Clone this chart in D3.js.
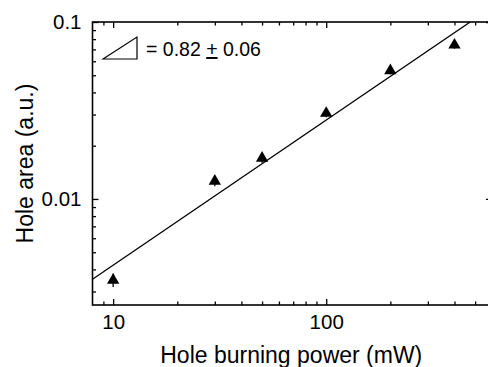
<!DOCTYPE html>
<html>
<head>
<meta charset="utf-8">
<script src="https://cdn.jsdelivr.net/npm/d3@7"></script>
<style>
  body { margin: 0; background: #fff; }
  svg { display: block; font-family: "Liberation Sans", Arial, sans-serif; }
</style>
</head>
<body>
<svg class="chart"></svg>
<script>
// Data
const power = [10, 30, 50, 100, 200, 400]            // mW
const area = [0.00348, 0.0126, 0.0170, 0.0305, 0.0531, 0.0741]
const errLo = [0.0003, 0.0008, 0.0010, 0.0015, 0.0025, 0.0035]

// fitted line end points (slope 0.82 on log-log)
const fitX = [8, 474]
const fitY = [0.00352, 0.1]

const xMajor = [10, 100]
const xMinor = [9, 20, 30, 40, 50, 60, 70, 80, 90, 200, 300, 400, 500]
const yMajor = [0.01, 0.1]
const yMinor = [0.003, 0.004, 0.005, 0.006, 0.007, 0.008, 0.009,
	0.02, 0.03, 0.04, 0.05, 0.06, 0.07, 0.08, 0.09]

const [width, height] = [488, 367]
const m = { left: 92.5, right: 492, top: 22, bottom: 305 }

const svg = d3.select('svg.chart')
	.attr('width', width)
	.attr('height', height)

const x = d3.scaleLog().domain([8, 600]).range([m.left, m.right])
const y = d3.scaleLog().domain([0.0025, 0.1]).range([m.bottom + 0.5, m.top])

const fmt = d => String(d)

// ticks (all point inward)
const axisStyle = g => {
	g.select('.domain').remove()
	g.selectAll('line').attr('stroke', '#000').attr('stroke-width', 1.3)
	g.selectAll('text').attr('fill', '#000').attr('font-size', 20.5)
}

svg.append('g').attr('transform', `translate(0,${m.bottom})`)
	.call(d3.axisBottom(x).tickValues(xMajor).tickFormat(fmt).tickSize(-6).tickPadding(9))
	.call(axisStyle)
svg.append('g').attr('transform', `translate(0,${m.bottom})`)
	.call(d3.axisBottom(x).tickValues(xMinor).tickFormat('').tickSize(-3.5))
	.call(axisStyle)
svg.append('g').attr('transform', `translate(0,${m.top})`)
	.call(d3.axisTop(x).tickValues(xMajor).tickFormat('').tickSize(-6))
	.call(axisStyle)
svg.append('g').attr('transform', `translate(0,${m.top})`)
	.call(d3.axisTop(x).tickValues(xMinor).tickFormat('').tickSize(-3.5))
	.call(axisStyle)

svg.append('g').attr('transform', `translate(${m.left},0)`)
	.call(d3.axisLeft(y).tickValues(yMajor).tickFormat(fmt).tickSize(-6).tickPadding(11))
	.call(axisStyle)
svg.append('g').attr('transform', `translate(${m.left},0)`)
	.call(d3.axisLeft(y).tickValues(yMinor).tickFormat('').tickSize(-3.5))
	.call(axisStyle)
svg.append('g').attr('transform', `translate(${m.right},0)`)
	.call(d3.axisRight(y).tickValues(yMajor).tickFormat('').tickSize(-6))
	.call(axisStyle)

// frame
svg.append('rect')
	.attr('x', m.left).attr('y', m.top)
	.attr('width', m.right - m.left).attr('height', m.bottom - m.top)
	.attr('fill', 'none').attr('stroke', '#000').attr('stroke-width', 1.6)

// clip for line
svg.append('clipPath').attr('id', 'plot')
	.append('rect').attr('x', m.left).attr('y', m.top)
	.attr('width', m.right - m.left).attr('height', m.bottom - m.top)

const fit = fitX.map((v, i) => [v, fitY[i]])
svg.append('path')
	.datum(fit)
	.attr('clip-path', 'url(#plot)')
	.attr('d', d3.line().x(d => x(d[0])).y(d => y(d[1])))
	.attr('fill', 'none').attr('stroke', '#000').attr('stroke-width', 1.3)

// error bars + triangles
const pts = power.map((p, i) => ({ p, a: area[i], e: errLo[i] }))
svg.append('g').selectAll('line')
	.data(pts)
	.join('line')
	.attr('x1', d => x(d.p)).attr('x2', d => x(d.p))
	.attr('y1', d => y(d.a + d.e)).attr('y2', d => y(d.a - d.e))
	.attr('stroke', '#000').attr('stroke-width', 1.3)

const tri = d3.symbol().type(d3.symbolTriangle).size(66)
svg.append('g').selectAll('path')
	.data(pts)
	.join('path')
	.attr('transform', d => `translate(${x(d.p)},${y(d.a)})`)
	.attr('d', tri)
	.attr('fill', '#000')

// slope legend
svg.append('path')
	.attr('d', 'M103,59L137,37L137,59Z')
	.attr('fill', 'none').attr('stroke', '#000').attr('stroke-width', 1.2)
const lab = svg.append('text').attr('x', 146).attr('y', 56)
	.attr('font-size', 19.5).attr('fill', '#000')
lab.append('tspan').text('= 0.82 ')
lab.append('tspan').attr('text-decoration', 'underline').text('+')
lab.append('tspan').text(' 0.06')

// axis titles
svg.append('text')
	.attr('x', (m.left + m.right) / 2 - 1).attr('y', 363)
	.attr('text-anchor', 'middle').attr('font-size', 23)
	.text('Hole burning power (mW)')
svg.append('text')
	.attr('transform', `translate(33,${(m.top + m.bottom) / 2}) rotate(-90)`)
	.attr('text-anchor', 'middle').attr('font-size', 23)
	.text('Hole area (a.u.)')
</script>
</body>
</html>
